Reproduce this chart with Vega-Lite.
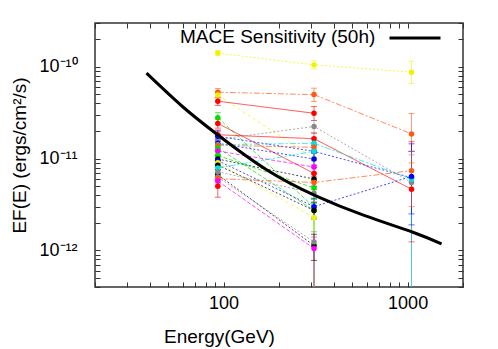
{
  "$schema": "https://vega.github.io/schema/vega-lite/v6.json",
  "width": 368,
  "height": 264,
  "autosize": {"type": "none"},
  "padding": {"left": 95, "top": 23, "right": 35, "bottom": 62},
  "background": "white",
  "config": {
    "font": "Liberation Sans",
    "view": {"stroke": "#333333", "strokeWidth": 1.5},
    "axis": {"grid": false, "domain": false, "tickColor": "#333333", "tickWidth": 1, "labelFontSize": 18, "labelColor": "#000000", "titleFontSize": 19, "titleFontWeight": "normal", "titleColor": "#000000", "labelFont": "Liberation Sans", "titleFont": "Liberation Sans", "labelOverlap": false, "labelFlush": false}
  },
  "datasets": {
    "pts": [
      {"s": "a", "E": 93, "F": 1.41e-10, "lo": 1.32e-10, "hi": 1.5e-10},
      {"s": "a", "E": 310, "F": 1.05e-10, "lo": 9.5e-11, "hi": 1.16e-10},
      {"s": "a", "E": 1050, "F": 8.75e-11, "lo": 6.6e-11, "hi": 1.15e-10},
      {"s": "b", "E": 93, "F": 5.29e-11, "lo": 4.7e-11, "hi": 5.8e-11},
      {"s": "b", "E": 310, "F": 4.98e-11, "lo": 4.2e-11, "hi": 5.85e-11},
      {"s": "b", "E": 1050, "F": 1.86e-11, "lo": 9e-12, "hi": 3.1e-11},
      {"s": "c", "E": 93, "F": 4.94e-11, "lo": 4.4e-11, "hi": 5.5e-11},
      {"s": "c", "E": 310, "F": 1.0e-11, "lo": 8e-12, "hi": 1.2e-11},
      {"s": "d", "E": 93, "F": 4.22e-11, "lo": 3.8e-11, "hi": 4.6e-11},
      {"s": "d", "E": 310, "F": 3.12e-11, "lo": 2.6e-11, "hi": 3.7e-11},
      {"s": "e", "E": 93, "F": 2.79e-11, "lo": 2.45e-11, "hi": 3.17e-11},
      {"s": "e", "E": 310, "F": 2.96e-12, "lo": 3e-13, "hi": 3.6e-12},
      {"s": "f", "E": 93, "F": 2.42e-11, "lo": 2.15e-11, "hi": 2.7e-11},
      {"s": "f", "E": 310, "F": 6.9e-12, "lo": 5.8e-12, "hi": 8e-12},
      {"s": "g", "E": 93, "F": 1.82e-11, "lo": 1.6e-11, "hi": 2.05e-11},
      {"s": "g", "E": 310, "F": 1.65e-11, "lo": 1.4e-11, "hi": 1.9e-11},
      {"s": "g", "E": 1050, "F": 4.65e-12, "lo": 1.24e-12, "hi": 1.53e-11},
      {"s": "h", "E": 93, "F": 1.62e-11, "lo": 1.45e-11, "hi": 1.8e-11},
      {"s": "h", "E": 310, "F": 2.24e-11, "lo": 1.9e-11, "hi": 2.6e-11},
      {"s": "h", "E": 1050, "F": 5.5e-12, "lo": 3e-13, "hi": 1.1e-11},
      {"s": "i", "E": 93, "F": 1.75e-11, "lo": 1.55e-11, "hi": 2e-11},
      {"s": "i", "E": 310, "F": 1.2e-11, "lo": 1.0e-11, "hi": 1.4e-11},
      {"s": "i", "E": 1050, "F": 6.2e-12, "lo": 1.9e-12, "hi": 1.45e-11},
      {"s": "j", "E": 93, "F": 1.47e-11, "lo": 1.3e-11, "hi": 1.65e-11},
      {"s": "j", "E": 310, "F": 9.9e-12, "lo": 8.5e-12, "hi": 1.15e-11},
      {"s": "k", "E": 93, "F": 1.42e-11, "lo": 1.25e-11, "hi": 1.6e-11},
      {"s": "k", "E": 310, "F": 1.47e-11, "lo": 1.25e-11, "hi": 1.7e-11},
      {"s": "k", "E": 1050, "F": 6.0e-12, "lo": 3e-13, "hi": 1.2e-11},
      {"s": "l", "E": 93, "F": 1.4e-11, "lo": 1.25e-11, "hi": 1.55e-11},
      {"s": "l", "E": 310, "F": 1.33e-11, "lo": 1.15e-11, "hi": 1.5e-11},
      {"s": "m", "E": 93, "F": 1.31e-11, "lo": 1.15e-11, "hi": 1.45e-11},
      {"s": "m", "E": 310, "F": 2.73e-12, "lo": 3e-13, "hi": 3.3e-12},
      {"s": "n", "E": 93, "F": 1.21e-11, "lo": 1.07e-11, "hi": 1.35e-11},
      {"s": "n", "E": 310, "F": 8.1e-12, "lo": 6.8e-12, "hi": 9.5e-12},
      {"s": "o", "E": 93, "F": 1.08e-11, "lo": 9.5e-12, "hi": 1.2e-11},
      {"s": "o", "E": 310, "F": 4.8e-12, "lo": 3.6e-12, "hi": 6e-12},
      {"s": "p", "E": 93, "F": 9.9e-12, "lo": 8.8e-12, "hi": 1.1e-11},
      {"s": "p", "E": 310, "F": 6.0e-12, "lo": 5e-12, "hi": 7e-12},
      {"s": "q", "E": 93, "F": 9.5e-12, "lo": 8.4e-12, "hi": 1.07e-11},
      {"s": "q", "E": 310, "F": 3.0e-12, "lo": 2.3e-12, "hi": 3.7e-12},
      {"s": "q", "E": 1050, "F": 6.4e-12, "lo": 2.5e-12, "hi": 1.2e-11},
      {"s": "r", "E": 93, "F": 9.0e-12, "lo": 8e-12, "hi": 1.02e-11},
      {"s": "r", "E": 310, "F": 2.28e-12, "lo": 3e-13, "hi": 2.8e-12},
      {"s": "s", "E": 93, "F": 8.5e-12, "lo": 7.5e-12, "hi": 9.6e-12},
      {"s": "s", "E": 310, "F": 2.73e-12, "lo": 2.2e-12, "hi": 3.3e-12},
      {"s": "t", "E": 93, "F": 7.9e-12, "lo": 7e-12, "hi": 8.9e-12},
      {"s": "t", "E": 310, "F": 1.2e-11, "lo": 1.0e-11, "hi": 1.4e-11},
      {"s": "u", "E": 93, "F": 6.7e-12, "lo": 5.9e-12, "hi": 7.6e-12},
      {"s": "u", "E": 310, "F": 1.13e-12, "lo": 7.8e-13, "hi": 1.5e-12},
      {"s": "v", "E": 93, "F": 6.3e-12, "lo": 5.6e-12, "hi": 7.1e-12},
      {"s": "v", "E": 310, "F": 1.24e-12, "lo": 3e-13, "hi": 1.6e-12},
      {"s": "w", "E": 93, "F": 6.05e-12, "lo": 5.3e-12, "hi": 6.8e-12},
      {"s": "w", "E": 310, "F": 5.5e-12, "lo": 4.6e-12, "hi": 6.4e-12},
      {"s": "w", "E": 1050, "F": 7.4e-12, "lo": 3e-12, "hi": 1.2e-11},
      {"s": "x", "E": 93, "F": 5.7e-12, "lo": 5e-12, "hi": 6.4e-12},
      {"s": "x", "E": 310, "F": 1.05e-12, "lo": 3e-13, "hi": 1.4e-12},
      {"s": "y", "E": 93, "F": 5.0e-12, "lo": 3.8e-12, "hi": 6.2e-12},
      {"s": "z", "E": 93, "F": 7.2e-12, "lo": 6.4e-12, "hi": 8.1e-12},
      {"s": "z", "E": 310, "F": 4.2e-12, "lo": 3.4e-12, "hi": 5e-12}
    ],
    "mace": [
      {"name": "MACE Sensitivity (50h)", "E": 38.1, "F": 8.53e-11},
      {"name": "MACE Sensitivity (50h)", "E": 59.5, "F": 3.72e-11},
      {"name": "MACE Sensitivity (50h)", "E": 93.1, "F": 1.81e-11},
      {"name": "MACE Sensitivity (50h)", "E": 170.3, "F": 7.62e-12},
      {"name": "MACE Sensitivity (50h)", "E": 315, "F": 3.96e-12},
      {"name": "MACE Sensitivity (50h)", "E": 580, "F": 2.41e-12},
      {"name": "MACE Sensitivity (50h)", "E": 1068, "F": 1.58e-12},
      {"name": "MACE Sensitivity (50h)", "E": 1529, "F": 1.18e-12}
    ]
  },
  "resolve": {"scale": {"color": "independent"}, "axis": {"x": "independent", "y": "independent"}},
  "layer": [
    {
      "data": {"name": "pts"},
      "encoding": {
        "x": {"field": "E", "type": "quantitative", "scale": {"type": "log", "domain": [20, 2000], "nice": false},
          "axis": {
            "orient": "bottom",
            "values": [20, 30, 40, 50, 60, 70, 80, 90, 100, 200, 300, 400, 500, 600, 700, 800, 900, 1000, 2000],
            "labelExpr": "datum.value == 100 ? '100' : datum.value == 1000 ? '1000' : ''",
            "tickSize": -5,
            "labelPadding": 12,
            "title": "Energy(GeV)", "titleX": 124, "titleY": 55, "titleBaseline": "alphabetic", "titleAlign": "center"
          }},
        "color": {"field": "s", "type": "nominal", "legend": null,
          "scale": {"domain": ["a","b","c","d","e","f","g","h","i","j","k","l","m","n","o","p","q","r","s","t","u","v","w","x","y","z"],
            "range": ["#f2f200","#ff5a14","#f2f200","#ff0000","#00e000","#ff0000","#ff0000","#888888","#0000ff","#0000ff","#00e0e0","#ff5a14","#00e000","#ff00ff","#00e000","#000000","#0000ff","#f2f200","#000000","#00e0e0","#000000","#888888","#ff5a14","#ff00ff","#ff0000","#888888"]}}
      },
      "layer": [
        {
          "mark": {"type": "rule", "strokeWidth": 1, "opacity": 0.6, "clip": true},
          "encoding": {
            "y": {"field": "lo", "type": "quantitative", "scale": {"type": "log", "domain": [4e-13, 3e-10], "nice": false},
              "axis": {
                "orient": "left",
                "values": [4e-13, 5e-13, 6e-13, 7e-13, 8e-13, 9e-13, 1e-12, 2e-12, 3e-12, 4e-12, 5e-12, 6e-12, 7e-12, 8e-12, 9e-12, 1e-11, 2e-11, 3e-11, 4e-11, 5e-11, 6e-11, 7e-11, 8e-11, 9e-11, 1e-10, 2e-10, 3e-10],
                "labelExpr": "datum.value == 1e-10 ? '10⁻¹⁰' : datum.value == 1e-11 ? '10⁻¹¹' : datum.value == 1e-12 ? '10⁻¹²' : ''",
                "tickSize": -5,
                "labelPadding": 23,
                "title": "EF(E) (ergs/cm²/s)", "titleX": -70, "titleY": 132, "titleAngle": -90, "titleBaseline": "alphabetic", "titleAlign": "center"
              }},
            "y2": {"field": "hi"}
          }
        },
        {
          "mark": {"type": "tick", "orient": "horizontal", "size": 6, "thickness": 1, "opacity": 0.6, "clip": true},
          "encoding": {"y": {"field": "lo", "type": "quantitative"}}
        },
        {
          "mark": {"type": "tick", "orient": "horizontal", "size": 6, "thickness": 1, "opacity": 0.6, "clip": true},
          "encoding": {"y": {"field": "hi", "type": "quantitative"}}
        },
        {
          "mark": {"type": "line", "strokeWidth": 1, "opacity": 0.7, "clip": true},
          "encoding": {
            "y": {"field": "F", "type": "quantitative"},
            "strokeDash": {"field": "s", "type": "nominal", "legend": null,
              "scale": {"domain": ["a","b","c","d","e","f","g","h","i","j","k","l","m","n","o","p","q","r","s","t","u","v","w","x","y","z"],
                "range": [[2,2],[6,2,2,2],[3,3],[1,0],[4,2],[1,0],[1,0],[2,2],[2,2],[2,2],[6,2,2,2],[6,2,2,2],[4,2],[4,2],[4,2],[2,2],[2,2],[3,3],[2,2],[6,2,2,2],[2,2],[2,2],[6,2,2,2],[4,2],[1,0],[2,2]]}}
          }
        },
        {
          "mark": {"type": "circle", "size": 30, "opacity": 1, "clip": true},
          "encoding": {"y": {"field": "F", "type": "quantitative"}}
        }
      ]
    },
    {
      "data": {"name": "mace"},
      "mark": {"type": "line", "strokeWidth": 3, "interpolate": "natural", "clip": true},
      "encoding": {
        "x": {"field": "E", "type": "quantitative",
          "axis": {
            "orient": "top", "labels": false, "title": null,
            "values": [20, 30, 40, 50, 60, 70, 80, 90, 100, 200, 300, 400, 500, 600, 700, 800, 900, 1000, 2000],
            "tickSize": -5
          }},
        "y": {"field": "F", "type": "quantitative",
          "axis": {
            "orient": "right", "labels": false, "title": null,
            "values": [4e-13, 5e-13, 6e-13, 7e-13, 8e-13, 9e-13, 1e-12, 2e-12, 3e-12, 4e-12, 5e-12, 6e-12, 7e-12, 8e-12, 9e-12, 1e-11, 2e-11, 3e-11, 4e-11, 5e-11, 6e-11, 7e-11, 8e-11, 9e-11, 1e-10, 2e-10, 3e-10],
            "tickSize": -5
          }},
        "color": {"field": "name", "type": "nominal",
          "scale": {"domain": ["MACE Sensitivity (50h)"], "range": ["#000000"]},
          "legend": {
            "orient": "none", "legendX": 85, "legendY": -12,
            "title": "MACE Sensitivity (50h)", "titleOrient": "left", "titleAnchor": "middle", "titleBaseline": "top", "titleFontSize": 19, "titleFontWeight": "normal", "titleColor": "#000000", "titleFont": "Liberation Sans", "titlePadding": 12, "titleLimit": 600,
            "labelExpr": "''", "labelFontSize": 1,
            "symbolType": "stroke", "symbolSize": 2600, "symbolStrokeWidth": 3, "symbolStrokeColor": "#000000", "padding": 0
          }}
      }
    }
  ]
}
